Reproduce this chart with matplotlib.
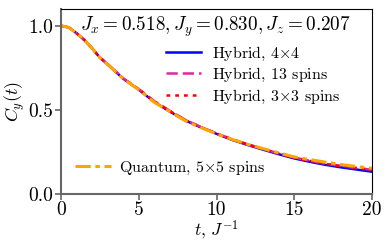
import matplotlib
matplotlib.use("Agg")
import matplotlib.pyplot as plt

plt.rcParams['font.family'] = ['cmr10', 'DejaVu Serif']
plt.rcParams['mathtext.fontset'] = 'cm'
plt.rcParams['axes.unicode_minus'] = False

t = [0, 0.5, 1, 1.5, 2, 2.5, 3, 4, 5, 6, 7, 8, 9, 10, 11, 12, 13, 14, 15, 16, 17, 18, 19, 20]
hybrid_4x4 = [1.0, 0.99, 0.955, 0.915, 0.865, 0.81, 0.77, 0.685, 0.62, 0.547, 0.49, 0.437, 0.396, 0.358,
              0.322, 0.292, 0.264, 0.237, 0.212, 0.192, 0.174, 0.159, 0.146, 0.133]
hybrid_13 = [1.0, 0.99, 0.955, 0.915, 0.866, 0.812, 0.772, 0.688, 0.624, 0.552, 0.495, 0.441, 0.399, 0.361,
             0.326, 0.296, 0.268, 0.242, 0.217, 0.198, 0.181, 0.167, 0.155, 0.145]
hybrid_3x3 = [1.0, 0.99, 0.955, 0.915, 0.866, 0.811, 0.771, 0.687, 0.622, 0.550, 0.493, 0.439, 0.398, 0.360,
              0.325, 0.295, 0.267, 0.241, 0.216, 0.197, 0.180, 0.166, 0.154, 0.143]
quantum_5x5 = [1.0, 0.99, 0.955, 0.915, 0.865, 0.81, 0.77, 0.685, 0.62, 0.545, 0.49, 0.435, 0.395, 0.358,
               0.325, 0.296, 0.27, 0.245, 0.221, 0.205, 0.19, 0.176, 0.164, 0.153]

labels_hybrid = [r'Hybrid, $4{\times}4$', r'Hybrid, $13$ spins', r'Hybrid, $3{\times}3$ spins']
label_quantum = r'Quantum, $5{\times}5$ spins'
title_text = r'$J_x = 0.518, J_y = 0.830, J_z = 0.207$'

fig = plt.figure(figsize=(3.87, 2.42), dpi=100)
ax = fig.add_axes([0.158, 0.198, 0.803, 0.765])

l1, = ax.plot(t, hybrid_4x4, color='#0000ff', lw=1.8, ls='-', label=labels_hybrid[0])
l2, = ax.plot(t, hybrid_13, color='#e0289a', lw=1.8, ls=(0, (4.5, 2)), label=labels_hybrid[1])
l3, = ax.plot(t, hybrid_3x3, color='#ff0000', lw=1.8, ls=(0, (1.5, 2)), label=labels_hybrid[2])
l4, = ax.plot(t, quantum_5x5, color='orange', lw=2.2, ls=(0, (5, 1.5, 1.5, 1.5)), label=label_quantum)

ax.set_xlim(0, 20)
ax.set_ylim(0, 1.1)
ax.set_xticks([0, 5, 10, 15, 20])
ax.set_yticks([0.0, 0.5, 1.0])
ax.set_yticklabels(['0.0', '0.5', '1.0'])
ax.set_xlabel(r'$t$, $J^{-1}$', fontsize=12.5, labelpad=0)
ax.set_ylabel(r'$C_y(t)$', fontsize=13, labelpad=1)
ax.tick_params(labelsize=14, color='#666666', width=1.2, length=4, pad=2)
ax.tick_params(axis='x', pad=1)

for s in ['left', 'bottom']:
    ax.spines[s].set_color('#666666')
    ax.spines[s].set_linewidth(1.5)
for s in ['top', 'right']:
    ax.spines[s].set_color('black')
    ax.spines[s].set_linewidth(0.8)

ax.text(0.062, 0.905, title_text, transform=ax.transAxes, fontsize=13.8, va='center', ha='left')

leg1 = ax.legend(handles=[l1, l2, l3], loc='upper left', bbox_to_anchor=(0.305, 0.86),
                 frameon=False, fontsize=11.5, handlelength=2.2, handletextpad=0.7, labelspacing=0.22,
                 borderaxespad=0.2)
ax.add_artist(leg1)
ax.legend(handles=[l4], loc='lower left', bbox_to_anchor=(0.015, 0.04),
          frameon=False, fontsize=11.5, handlelength=2.2, handletextpad=0.5, borderaxespad=0.2)

fig.savefig('out.png', dpi=100)
